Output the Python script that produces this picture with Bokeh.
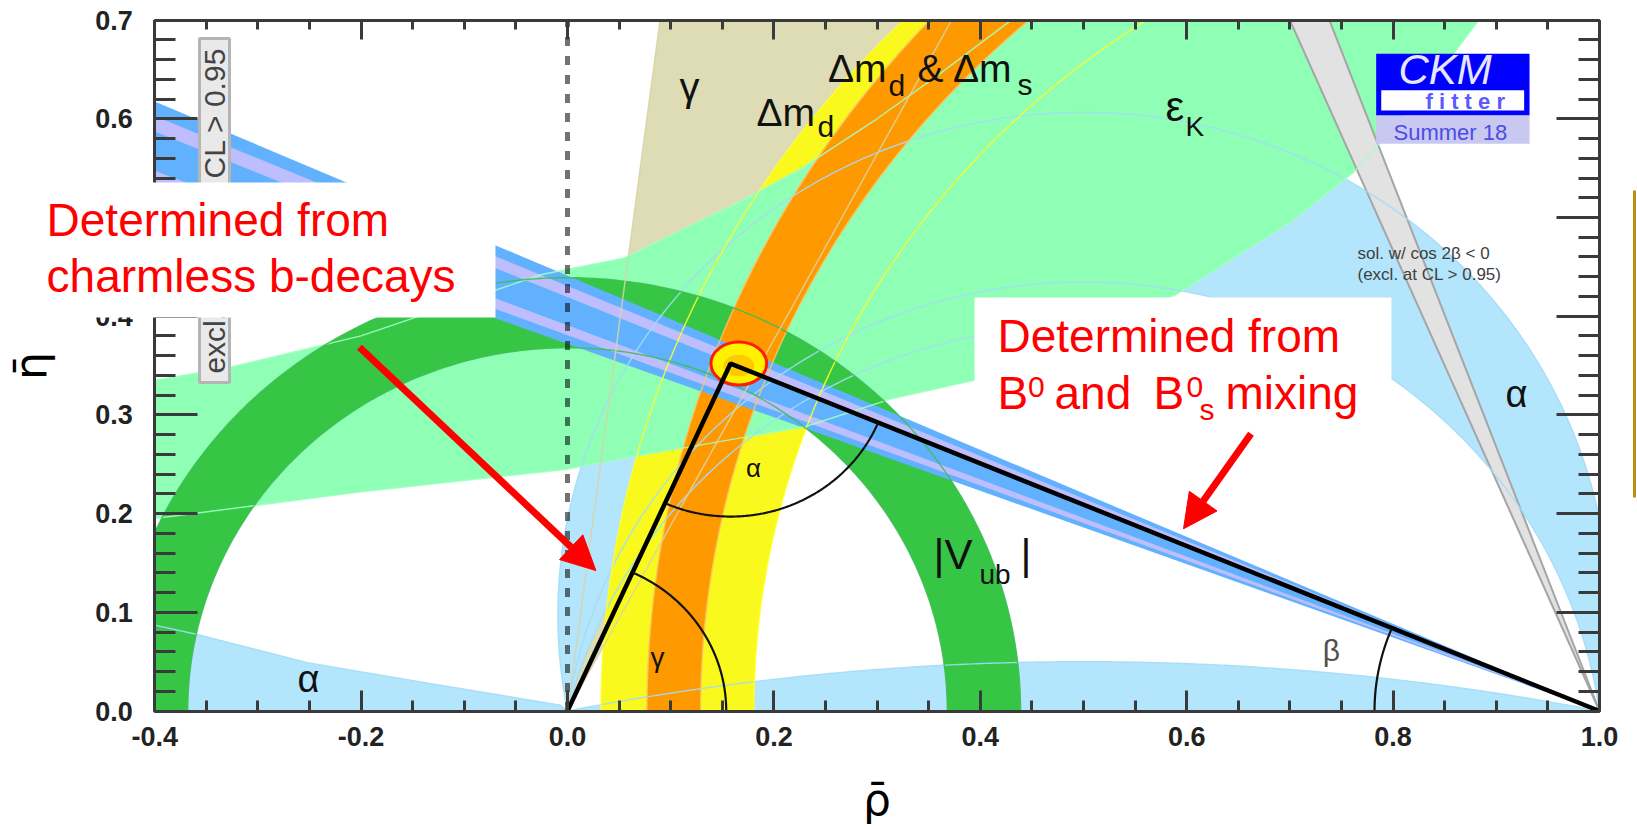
import numpy as np
from bokeh.plotting import figure
from bokeh.models import (Range1d, LinearAxis, SingleIntervalTicker, PrintfTickFormatter,
                          BoxAnnotation, Label, Arrow, NormalHead)
from bokeh.core.properties import value
from bokeh.embed import file_html
from bokeh.resources import INLINE

FONT = "Liberation Sans"

# ---------------- values (rho-bar / eta-bar) ----------------
rho_range = [-0.4, 1.0]
eta_range = [0.0, 0.7]
rho_tick_step = 0.2
eta_tick_step = 0.1

apex_rho, apex_eta = 0.158, 0.352            # apex of the unitarity triangle
fit_rho, fit_eta = 0.166, 0.352              # global-fit region
fit_w, fit_h = 0.054, 0.0436

gamma_deg = [62.0, 82.7]                     # gamma wedge seen from (0,0)
alpha_outer_deg = 79.0                       # alpha crescent, outer circle
alpha_inner_deg = [98.0, 104.0]              # inner circle, right part / left part
alpha_lens_sagitta = 0.05                    # flat alpha solution along the rho axis
alpha_left_rho = [-0.40, -0.361, -0.252, -0.134, -0.007, 0.0]
alpha_left_eta = [0.087, 0.078, 0.049, 0.028, 0.006, 0.0]

dmd_centre = [1.0145, 1.0145]                # Delta m_d : left-edge / right-edge circle
dmd_radius = [0.982, 0.834]
dmds_centre = [1.108, 1.058]                 # Delta m_d & Delta m_s
dmds_radius = [1.031, 0.929]
vub_radius = [0.368, 0.439]                  # |Vub| ring around (0,0)

epsK_up_rho = [-0.40, -0.328, -0.20, -0.026, 0.055, 0.169, 0.227, 0.30, 0.36, 0.43]
epsK_up_eta = [0.335, 0.348, 0.38, 0.442, 0.459, 0.517, 0.55, 0.60, 0.645, 0.70]
epsK_lo_rho = [-0.40, -0.20, 0.0, 0.06, 0.23, 0.313, 0.394, 0.59, 0.70, 0.762, 0.783, 0.833, 0.883]
epsK_lo_eta = [0.195, 0.222, 0.245, 0.257, 0.288, 0.316, 0.335, 0.422, 0.495, 0.546, 0.571, 0.63, 0.70]

sin2b_deg = [20.4, 23.8]                     # sin 2beta band, seen from (1,0)
sin2b_stripes_deg = [(20.85, 21.35), (22.75, 23.3)]
cos2b_neg_deg = [66.8, 69.5]                 # sol. w/ cos 2beta < 0

gamma_arc_r, alpha_arc_r, beta_arc_r = 0.1538, 0.155, 0.218

# ---------------- page geometry (pixels) ----------------
W, H = 1637, 829
RHO0_PX, RHO_SCALE = 567.0, 1032.0           # pixel of rho=0, pixels per unit rho
ETA0_PX, ETA_SCALE = 710.5, 987.0            # pixel of eta=0, pixels per unit eta
view_x = (-RHO0_PX / RHO_SCALE, (W - RHO0_PX) / RHO_SCALE)
view_y = ((ETA0_PX - H) / ETA_SCALE, ETA0_PX / ETA_SCALE)

# ---------------- colours ----------------
C_TAN, C_ALPHA, C_YEL, C_EPS = "#DEDCB4", "#B3E5FC", "#F9F91E", "#8EFFB4"
C_VUB, C_ORA, C_BLUE, C_LAV = "#37C546", "#FF9900", "#62B1FF", "#BEBEFF"
C_GREY, C_GREY_E = "#E2E2E2", "#A5A5A5"
AX = "#3a3a3a"

p = figure(width=W, height=H, x_range=Range1d(*view_x), y_range=Range1d(*view_y),
           output_backend="svg", toolbar_location=None,
           x_axis_location=None, y_axis_location=None,
           min_border_left=0, min_border_right=0, min_border_top=0, min_border_bottom=0,
           background_fill_color="white", border_fill_color="white", outline_line_color=None)
p.grid.visible = False

TOP = eta_range[1]
LEFT = rho_range[0]


def arc(cx, cy, r, t0, t1, n=240):
    t = np.radians(np.linspace(t0, t1, n))
    return cx + r * np.cos(t), cy + r * np.sin(t)


def alpha_circle(a_deg):
    cy = 0.5 / np.tan(np.radians(a_deg))
    return cy, 0.5 / np.sin(np.radians(a_deg)), np.degrees(np.arctan(cy / 0.5))


def edge(c, r, ys):
    return c - np.sqrt(r ** 2 - ys ** 2)


ys = np.linspace(0.0, TOP, 160)

# gamma wedge (cut at the top of the window)
gx = [0.0, TOP / np.tan(np.radians(gamma_deg[1])), TOP / np.tan(np.radians(gamma_deg[0]))]
gy = [0.0, TOP, TOP]
p.patch(gx, gy, fill_color=C_TAN, line_color=None)

# alpha: crescent
cyo, ro, phio = alpha_circle(alpha_outer_deg)
cy1, r1, phi1 = alpha_circle(alpha_inner_deg[0])
cy2, r2, phi2 = alpha_circle(alpha_inner_deg[1])
ox, oy = arc(0.5, cyo, ro, 180 + phio, -phio)
i1x, i1y = arc(0.5, cy1, r1, phi1, 90)
i2x, i2y = arc(0.5, cy2, r2, 90, 180 + phi2)
p.patch(np.concatenate([ox, i1x, i2x]), np.concatenate([oy, i1y, i2y]), fill_color=C_ALPHA, line_color=None)
# alpha: flat lens
s = alpha_lens_sagitta
cyl = (s ** 2 - 0.25) / (2 * s)
rl = s - cyl
lx, ly = arc(0.5, cyl, rl, np.degrees(np.arctan2(-cyl, -0.5)), np.degrees(np.arctan2(-cyl, 0.5)))
p.patch(lx, ly, fill_color=C_ALPHA, line_color=None)
# alpha: left sliver
p.patch(alpha_left_rho + [LEFT], alpha_left_eta + [0.0], fill_color=C_ALPHA, line_color=None)

# Delta m_d
yl = edge(dmd_centre[0], dmd_radius[0], ys)
yr = edge(dmd_centre[1], dmd_radius[1], ys)
p.patch(np.concatenate([yl, yr[::-1]]), np.concatenate([ys, ys[::-1]]), fill_color=C_YEL, line_color=None)

# epsilon_K
ex = epsK_up_rho + epsK_lo_rho[::-1]
ey = epsK_up_eta + epsK_lo_eta[::-1]
p.patch(ex, ey, fill_color=C_EPS, line_color=None)

# |Vub|
vox, voy = arc(0, 0, vub_radius[1], 0, 180)
vix, viy = arc(0, 0, vub_radius[0], 180, 0)
p.patch(np.concatenate([vox, vix]), np.concatenate([voy, viy]), fill_color=C_VUB, line_color=None)

# Delta m_d & Delta m_s
ol = edge(dmds_centre[0], dmds_radius[0], ys)
orr = edge(dmds_centre[1], dmds_radius[1], ys)
p.patch(np.concatenate([ol, orr[::-1]]), np.concatenate([ys, ys[::-1]]), fill_color=C_ORA, line_color=None)

# sin 2beta band and stripes (cut at the left edge of the window)
reach = 1.0 - LEFT


def beta_band(b0, b1):
    return [1.0, LEFT, LEFT], [0.0, reach * np.tan(np.radians(b0)), reach * np.tan(np.radians(b1))]


bx, by = beta_band(*sin2b_deg)
p.patch(bx, by, fill_color=C_BLUE, line_color=None)
for lo, hi in sin2b_stripes_deg:
    sx, sy = beta_band(lo, hi)
    p.patch(sx, sy, fill_color=C_LAV, line_color=None)

# cos 2beta < 0 band
cb = [1.0 - TOP / np.tan(np.radians(a)) for a in cos2b_neg_deg]
p.patch([1.0, cb[0], cb[1]], [0.0, TOP, TOP], fill_color=C_GREY, line_color=None)
for c in cb:
    p.line([1.0, c], [0.0, TOP], line_color=C_GREY_E, line_width=2)

# thin contour lines
TL = dict(line_width=1.4, line_alpha=0.9)
a1x, a1y = arc(0.5, cy1, r1, phi1, 180 + phi1)
for xx, yy in [(ox, oy), (a1x, a1y), (i2x, i2y), (lx, ly), (alpha_left_rho, alpha_left_eta)]:
    p.line(xx, yy, line_color="#A3DBF7", **TL)
p.line(yl, ys, line_color="#FFFF2A", **TL)
p.line(yr, ys, line_color="#FFFF2A", **TL)
p.line(ol, ys, line_color="#F7C46A", **TL)
p.line(orr, ys, line_color="#F7C46A", **TL)
p.line(epsK_up_rho, epsK_up_eta, line_color="#A2FFC4", **TL)
p.line(epsK_lo_rho, epsK_lo_eta, line_color="#A2FFC4", **TL)
p.line(vox, voy, line_color="#3DBE55", **TL)
p.line(vix, viy, line_color="#3DBE55", **TL)
p.line([0, gx[1]], [0, TOP], line_color="#D8D4A6", **TL)
p.line([0, gx[2]], [0, TOP], line_color="#D8D4A6", **TL)

# white masks outside the rho/eta window
MASK = dict(fill_color="white", line_color=None)
p.quad(left=view_x[0], right=rho_range[0], bottom=view_y[0], top=view_y[1], **MASK)
p.quad(left=rho_range[1], right=view_x[1], bottom=view_y[0], top=view_y[1], **MASK)
p.quad(left=view_x[0], right=view_x[1], bottom=view_y[0], top=eta_range[0], **MASK)
p.quad(left=view_x[0], right=view_x[1], bottom=eta_range[1], top=view_y[1], **MASK)


def bl(y, size):
    # place the alphabetic baseline where it was read
    return y + 0.38 * size / ETA_SCALE


# excl. box on the left
p.quad(left=-0.3566, right=-0.3275, bottom=0.3328, top=0.6814,
       fill_color="#E9E9E9", line_color="#B5B5B5", line_width=3)
p.text(x=[-0.342], y=[0.507], text=["excl. area has CL > 0.95"], angle=np.pi / 2,
       text_font=value(FONT), text_font_size=value("30px"), text_color="#444444",
       text_align="center", text_baseline="middle")

# global fit region
p.ellipse(x=[fit_rho], y=[fit_eta], width=[fit_w], height=[fit_h],
          fill_color="#FFF200", line_color="#FF1A00", line_width=3)
p.ellipse(x=[fit_rho], y=[fit_eta - 0.002], width=[fit_w * 0.55], height=[fit_h * 0.5],
          fill_color="#FF9900", fill_alpha=0.45, line_color=None)

# unitarity triangle and angle arcs
p.line([0.0, apex_rho, 1.0], [0.0, apex_eta, 0.0], line_color="black", line_width=4.5)
ang_left = np.degrees(np.arctan2(apex_eta, apex_rho))
ang_right = np.degrees(np.arctan2(apex_eta, 1.0 - apex_rho))
gx_a, gy_a = arc(0, 0, gamma_arc_r, 0, ang_left)
ax_a, ay_a = arc(apex_rho, apex_eta, alpha_arc_r, 180 + ang_left, 360 - ang_right)
bx_a, by_a = arc(1.0, 0, beta_arc_r, 180 - ang_right, 180)
for xx, yy in [(gx_a, gy_a), (ax_a, ay_a), (bx_a, by_a)]:
    p.line(xx, yy, line_color="#111111", line_width=2.2)

# dashed rho = 0 line
p.line([0.0, 0.0], [0.0, 0.7], line_color="black", line_alpha=0.55, line_width=5, line_dash="9 10")


def put(xs, ys_, texts, size, color="#111111", align="left", style="normal"):
    p.text(x=xs, y=[bl(v, size) for v in ys_], text=texts, text_font=value(FONT),
           text_font_size=value(f"{size}px"), text_color=color, text_align=align,
           text_baseline="alphabetic", text_font_style=style)


# constraint labels
put([0.1182], [0.6170], ["γ"], 40, align="center")
put([0.1831], [0.5912], ["Δm"], 39)
put([0.2422], [0.5811], ["d"], 30)
put([0.2524, 0.3391, 0.3735], [0.6355, 0.6355, 0.6355], ["Δm", "&", "Δm"], 39)
put([0.3110, 0.4360], [0.6219, 0.6236], ["d", "s"], 30)
put([0.5795], [0.5962], ["ε"], 42)
put([0.5988], [0.5811], ["K"], 28)
put([0.3547, 0.4390], [0.1424, 0.1424], ["|V", "|"], 42)
put([0.3992], [0.1271], ["ub"], 28)
put([-0.251, 0.9196], [0.0177, 0.3065], ["α", "α"], 38, align="center")
put([0.1802], [0.2366], ["α"], 26, align="center")
put([0.0872], [0.0431], ["γ"], 28, align="center")
put([0.7403], [0.0501], ["β"], 30, color="#505050", align="center")
put([0.7655, 0.7655], [0.4565, 0.4352], ["sol. w/ cos 2β < 0", "(excl. at CL > 0.95)"], 17, color="#404040")

# CKMfitter logo
p.quad(left=0.7836, right=0.9322, bottom=0.6033, top=0.6659, fill_color="#0000FF", line_color=None)
p.quad(left=0.7885, right=0.9270, bottom=0.6085, top=0.6290, fill_color="white", line_color=None)
p.quad(left=0.7836, right=0.9322, bottom=0.5747, top=0.6033, fill_color="#C8C8F0", line_color=None)
put([0.8052], [0.6337], ["CKM"], 42, color="#E6E6FF", style="italic")
put([0.8314], [0.6090], ["f i t t e r"], 22, color="#5A5AFF", style="bold")
put([0.8004], [0.5780], ["Summer 18"], 22, color="#4C4CE6")


# ---------------- axes (drawn on the rho/eta window edges) ----------------
def make_axis(step, nminor, major_len, minor_len, at, bounds, labels):
    ax = LinearAxis(ticker=SingleIntervalTicker(interval=step, num_minor_ticks=nminor),
                    formatter=PrintfTickFormatter(format="%.1f"),
                    fixed_location=at, bounds=bounds,
                    major_tick_in=major_len, major_tick_out=0,
                    minor_tick_in=minor_len, minor_tick_out=0,
                    axis_line_color=AX, axis_line_width=3,
                    major_tick_line_color=AX, major_tick_line_width=3,
                    minor_tick_line_color=AX, minor_tick_line_width=3)
    if labels:
        ax.major_label_text_font = FONT
        ax.major_label_text_font_size = "27px"
        ax.major_label_text_font_style = "bold"
        ax.major_label_text_color = "#222222"
    else:
        ax.major_label_text_color = None
    return ax


eps = 1e-4
eta_bounds = (eta_range[0] - eps, eta_range[1] + eps)
rho_bounds = (rho_range[0] - eps, rho_range[1] + eps)

left = make_axis(eta_tick_step, 5, 43, 21, rho_range[0], eta_bounds, True)
left.major_label_standoff = 22
left.axis_label = "η̄"
left.axis_label_text_font = "DejaVu Sans"
left.axis_label_text_font_size = "44px"
left.axis_label_text_font_style = "normal"
left.axis_label_text_color = "black"
left.axis_label_standoff = 36
p.add_layout(left, "left")

right = make_axis(eta_tick_step, 5, 43, 21, rho_range[1], eta_bounds, False)
p.add_layout(right, "right")

bottom = make_axis(rho_tick_step, 4, 21, 11, eta_range[0], rho_bounds, True)
bottom.major_label_standoff = 16
bottom.axis_label = "ρ̄"
bottom.axis_label_text_font = "DejaVu Sans"
bottom.axis_label_text_font_size = "44px"
bottom.axis_label_text_font_style = "normal"
bottom.axis_label_text_color = "black"
bottom.axis_label_standoff = 24
p.add_layout(bottom, "below")

top = make_axis(rho_tick_step, 4, 19, 9, eta_range[1], rho_bounds, False)
p.add_layout(top, "above")

# ---------------- annotation boxes, red texts and arrows ----------------
p.add_layout(BoxAnnotation(left=view_x[0] - 0.05, right=-0.0698, bottom=0.3987, top=0.5355,
                           fill_color="white", fill_alpha=1.0, line_color=None, level="annotation"))
p.add_layout(BoxAnnotation(left=0.3944, right=0.7984, bottom=0.2894, top=0.4189,
                           fill_color="white", fill_alpha=1.0, line_color=None, level="annotation"))


def red(x, y, t, size=46):
    p.add_layout(Label(x=x, y=bl(y, size), text=t, text_font=FONT, text_font_size=f"{size}px",
                       text_color="#FF0000", text_align="left", text_baseline="alphabetic",
                       level="annotation"))


red(-0.5048, 0.4797, "Determined from")
red(-0.5048, 0.4230, "charmless b-decays")
red(0.4167, 0.3622, "Determined from")
red(0.4167, 0.3045, "B")
red(0.4462, 0.3166, "0", 30)
red(0.4719, 0.3045, "and")
red(0.5678, 0.3045, "B")
red(0.5998, 0.3166, "0", 30)
red(0.6124, 0.2943, "s", 30)
red(0.6376, 0.3045, "mixing")

p.add_layout(Arrow(end=NormalHead(size=34, fill_color="#FF0000", line_color="#FF0000"),
                   x_start=-0.2016, y_start=0.3686, x_end=0.0275, y_end=0.1423,
                   line_color="#FF0000", line_width=7))
p.add_layout(Arrow(end=NormalHead(size=34, fill_color="#FF0000", line_color="#FF0000"),
                   x_start=0.6623, y_start=0.2809, x_end=0.5969, y_end=0.1846,
                   line_color="#FF0000", line_width=7))
# cropped neighbouring-figure edge at the far right
p.add_layout(Arrow(end=None, x_start=1.0339, y_start=0.5274, x_end=1.0339, y_end=0.2163,
                   line_color="#C08A10", line_width=3))

open("out.html", "w").write(file_html(p, INLINE))
